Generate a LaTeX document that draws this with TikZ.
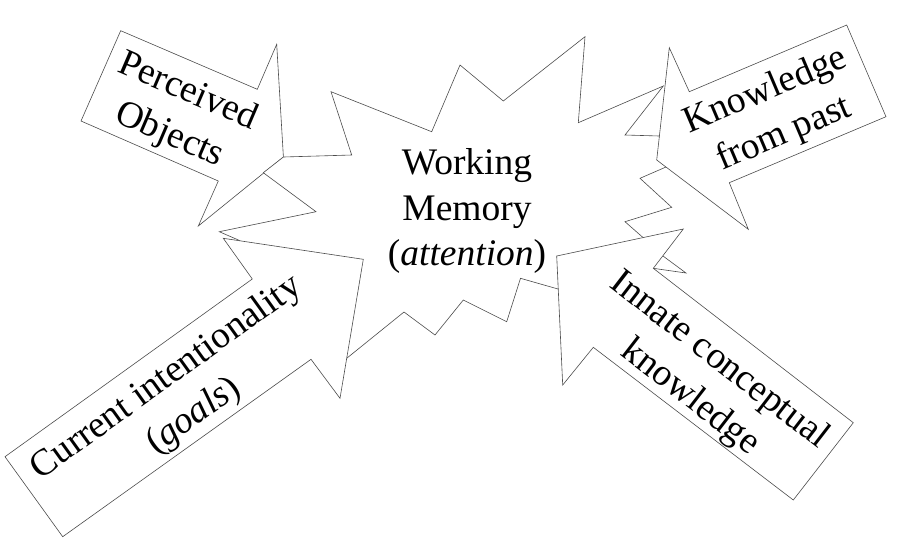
\documentclass[tikz,border=0pt]{standalone}
\usepackage{fontspec}
\setmainfont{Liberation Serif}
\usepackage{tikz}

\begin{document}
\begin{tikzpicture}[
  x=1pt, y=-1pt,
  outline/.style={draw=black!70, line width=0.6pt, fill=white, line join=miter},
  tag/.style={font=\fontsize{37.5}{47}\selectfont, align=center, inner sep=0pt},
]
  \useasboundingbox (0,0) rectangle (897,547);

  % perceived objects, behind the burst
  \draw[outline] (120.7,30.7) -- (257.3,89.3) -- (276.7,44.3) -- (283.4,157) -- (198.3,226) -- (218.3,181) -- (81,121) -- cycle;

  % working memory burst
  \draw[outline] (331,91.7) -- (431.7,131.7) -- (460,65) -- (503.3,101) -- (585,36.7) -- (578.3,122.7)
    -- (663.3,86) -- (625,135) -- (659.3,136) -- (666,167) -- (640,178.3) -- (671.7,207.3) -- (625,221.7)
    -- (643,237.5) -- (663,256) -- (686,273) -- (653.3,268.3) -- (558,289) -- (520.5,278.3) -- (506.7,321.7)
    -- (463.3,300) -- (435,335) -- (404,312) -- (346.7,358.3) -- (240,240.7) -- (219.3,231.7) -- (316,211.7)
    -- (263.3,172.7) -- (283.4,157) -- (351.7,155) -- cycle;

  % arrows in front of the burst
  \draw[outline] (5,456.7) -- (252.3,279) -- (223.3,238.3) -- (363.3,259.3) -- (340,398.3) -- (311,359.3) -- (62.7,536.7) -- cycle;
  \draw[outline] (846.7,25) -- (689.3,91.7) -- (669.3,47.7) -- (656.7,160) -- (748.3,229.3) -- (729.3,182.7) -- (886,116.7) -- cycle;
  \draw[outline] (853.3,422.7) -- (653.3,268.3) -- (683.3,229) -- (556.7,256) -- (562.7,385) -- (593.3,347.3) -- (793.3,500) -- cycle;

  \node[tag, font=\fontsize{37.5}{45.5}\selectfont] (memory) at (467,211) {Working\\Memory\\(\textit{attention})};
  \node[tag, rotate=-23.2] (perceived) at (178.5,114) {Perceived\\Objects};
  \node[tag, rotate=23] (past) at (775,113) {Knowledge\\from past};
  \node[tag, rotate=35.8] (goals) at (180.5,397.5) {Current intentionality\\(\textit{goals})};
  \node[tag, rotate=-37.7] (innate) at (704.5,379.5) {Innate conceptual\\knowledge};
\end{tikzpicture}
\end{document}
